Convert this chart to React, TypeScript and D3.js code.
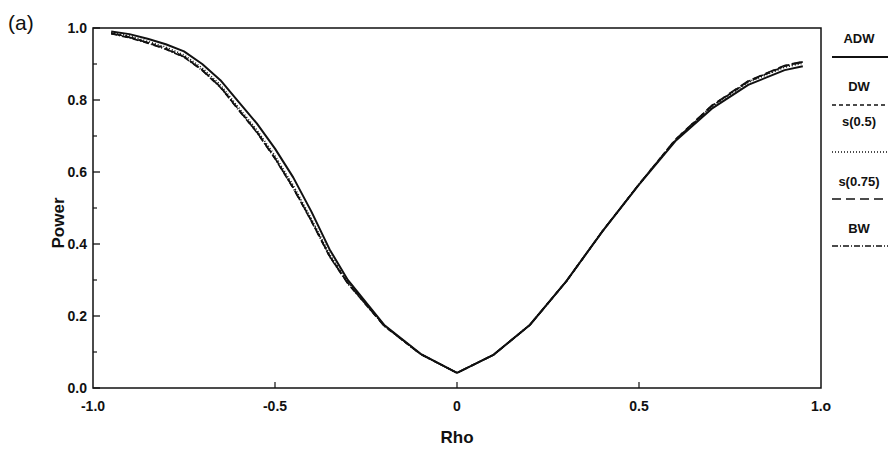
import React from "react";
import * as d3 from "d3";

// rho grid shared by every curve (finer on the steep left flank)
const rho = [-0.95, -0.9, -0.85, -0.8, -0.75, -0.7, -0.65, -0.6, -0.55, -0.5, -0.45, -0.4, -0.35, -0.3, -0.2, -0.1, 0, 0.1, 0.2, 0.3, 0.4, 0.5, 0.6, 0.7, 0.8, 0.9, 0.95];

const adw = [0.99, 0.983, 0.97, 0.955, 0.935, 0.9, 0.855, 0.795, 0.735, 0.665, 0.585, 0.49, 0.385, 0.3, 0.175, 0.095, 0.042, 0.092, 0.175, 0.296, 0.436, 0.565, 0.686, 0.776, 0.842, 0.883, 0.894];
const dw = [0.985, 0.975, 0.96, 0.943, 0.921, 0.884, 0.837, 0.774, 0.712, 0.639, 0.557, 0.465, 0.367, 0.292, 0.173, 0.094, 0.042, 0.092, 0.175, 0.296, 0.436, 0.566, 0.69, 0.784, 0.852, 0.895, 0.906];
const s05 = [0.987, 0.978, 0.963, 0.947, 0.925, 0.889, 0.842, 0.779, 0.717, 0.645, 0.563, 0.47, 0.372, 0.294, 0.174, 0.094, 0.042, 0.092, 0.175, 0.296, 0.436, 0.565, 0.688, 0.781, 0.849, 0.891, 0.902];
const s075 = [0.985, 0.974, 0.959, 0.942, 0.92, 0.883, 0.836, 0.773, 0.711, 0.638, 0.556, 0.464, 0.366, 0.291, 0.173, 0.094, 0.042, 0.092, 0.175, 0.296, 0.436, 0.566, 0.69, 0.785, 0.853, 0.896, 0.907];
const bw = [0.984, 0.973, 0.958, 0.941, 0.919, 0.882, 0.835, 0.772, 0.71, 0.637, 0.555, 0.463, 0.365, 0.29, 0.172, 0.094, 0.042, 0.092, 0.175, 0.296, 0.436, 0.566, 0.689, 0.783, 0.851, 0.894, 0.905];

const seriesNames = ["ADW", "DW", "s(0.5)", "s(0.75)", "BW"];
const seriesValues = [adw, dw, s05, s075, bw];
const dashes = ["", "4,3", "1,2", "9,5", "6,2,1,2"];

const xTicks = [-1, -0.5, 0, 0.5, 1];
const xTickLabels = ["-1.0", "-0.5", "0", "0.5", "1.o"];
const yTicks = [0, 0.2, 0.4, 0.6, 0.8, 1.0];
const yMinor = [0.1, 0.3, 0.5, 0.7, 0.9];

const W = 888, H = 449;
const M = { left: 93, right: 821, top: 28, bottom: 388 };
const FONT = "'Liberation Sans', Arial, sans-serif";

export default function App() {
  const x = d3.scaleLinear().domain([-1, 1]).range([M.left, M.right]);
  const y = d3.scaleLinear().domain([0, 1]).range([M.bottom, M.top]);

  const line = d3.line<[number, number]>()
    .x(d => x(d[0]))
    .y(d => y(d[1]));

  // legend rows: text y, line y
  const legendText = [38, 86, 121, 181, 228];
  const legendLine = [57, 105, 152, 199, 246];

  return (
    <svg width={W} height={H} style={{ position: "absolute", left: 0, top: 0, background: "#fff" }}>
      <rect x={0} y={0} width={W} height={H} fill="#fff" />
      <text x={8} y={30} fontFamily={FONT} fontSize={21} fill="#111">(a)</text>

      {/* frame */}
      <rect x={M.left} y={M.top} width={M.right - M.left} height={M.bottom - M.top}
        fill="none" stroke="#111" strokeWidth={1.5} />

      {/* y ticks */}
      {yTicks.map(t => (
        <g key={"y" + t}>
          <line x1={M.left} x2={M.left + 7} y1={y(t)} y2={y(t)} stroke="#111" strokeWidth={1.3} />
          <text x={87} y={y(t) + 5} textAnchor="end" fontFamily={FONT} fontWeight="bold" fontSize={14} fill="#111">
            {t.toFixed(1)}
          </text>
        </g>
      ))}
      {yMinor.map(t => (
        <line key={"ym" + t} x1={M.left} x2={M.left + 4} y1={y(t)} y2={y(t)} stroke="#111" strokeWidth={1.2} />
      ))}

      {/* x ticks */}
      {xTicks.map((t, i) => (
        <g key={"x" + t}>
          {i > 0 && i < xTicks.length - 1 &&
            <line x1={x(t)} x2={x(t)} y1={M.bottom} y2={M.bottom - 6} stroke="#111" strokeWidth={1.2} />}
          <text x={x(t)} y={M.bottom + 23} textAnchor="middle" fontFamily={FONT} fontWeight="bold" fontSize={14} fill="#111">
            {xTickLabels[i]}
          </text>
        </g>
      ))}

      <text x={457} y={443} textAnchor="middle" fontFamily={FONT} fontWeight="bold" fontSize={17} fill="#111">Rho</text>
      <text transform="translate(64,223) rotate(-90)" textAnchor="middle" fontFamily={FONT} fontWeight="bold" fontSize={17} fill="#111">Power</text>

      {/* curves */}
      {seriesValues.map((vals, i) => (
        <path key={seriesNames[i]}
          d={line(rho.map((r, j) => [r, vals[j]] as [number, number])) || ""}
          fill="none" stroke="#111" strokeWidth={i === 0 ? 2 : 1.6}
          strokeDasharray={dashes[i]} strokeLinejoin="round" />
      ))}

      {/* legend */}
      {seriesNames.map((n, i) => (
        <g key={"lg" + n}>
          <text x={859} y={legendText[i] + 5} textAnchor="middle" fontFamily={FONT} fontWeight="bold" fontSize={13} fill="#111">{n}</text>
          <line x1={832} x2={888} y1={legendLine[i]} y2={legendLine[i]} stroke="#111"
            strokeWidth={i === 0 ? 2 : 1.5} strokeDasharray={dashes[i]} />
        </g>
      ))}
    </svg>
  );
}
